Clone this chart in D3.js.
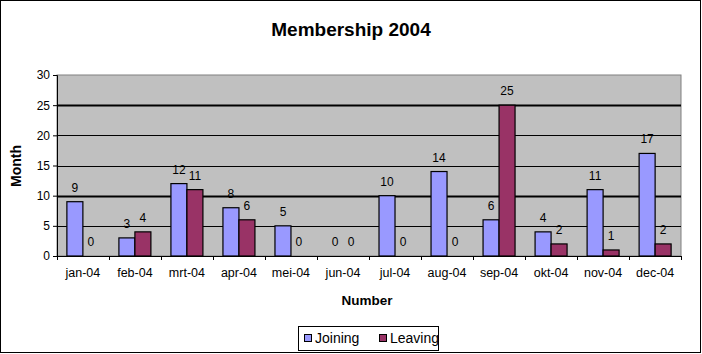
<!DOCTYPE html>
<html><head><meta charset="utf-8">
<script src="https://cdn.jsdelivr.net/npm/d3@7"></script>
<style>body{margin:0;background:#fff}svg{display:block;font-family:"Liberation Sans",Arial,sans-serif}</style>
</head><body><svg id="c" width="702" height="354"></svg>
<script>
const months = ["jan-04","feb-04","mrt-04","apr-04","mei-04","jun-04","jul-04","aug-04","sep-04","okt-04","nov-04","dec-04"];
const joining = [9,3,12,8,5,0,10,14,6,4,11,17];
const leaving = [0,4,11,6,0,0,0,0,25,2,1,2];
const yTicks = [0,5,10,15,20,25,30];
const seriesNames = ["Joining","Leaving"];
const colors = ["#9999FF","#993366"];

const svg = d3.select("#c");
svg.append("rect").attr("x",0.5).attr("y",0.5).attr("width",700).attr("height",352).attr("fill","#fff").attr("stroke","#000");

const L=57,R=681,T=75,B=256;
const x = d3.scaleBand().domain(months).range([L,R]).paddingInner(0.385).paddingOuter(0.19);
const xs = d3.scaleBand().domain(seriesNames).range([0,x.bandwidth()]);
const y = d3.scaleLinear().domain([0,30]).range([B,T]);

svg.append("rect").attr("x",L).attr("y",T).attr("width",R-L).attr("height",B-T).attr("fill","#C0C0C0").attr("stroke","#808080");

const thick = new Set([10,25]);
svg.append("g").selectAll("line").data(yTicks.filter(d=>d>0&&d<30)).join("line")
  .attr("x1",L).attr("x2",R).attr("y1",d=>Math.round(y(d))+0.5).attr("y2",d=>Math.round(y(d))+0.5)
  .attr("stroke","#000").attr("stroke-width",d=>thick.has(d)?2:1);

// y axis
const ya = svg.append("g").attr("transform",`translate(${L},0)`)
  .call(d3.axisLeft(y).tickValues(yTicks).tickSize(4).tickPadding(3));
ya.select(".domain").attr("stroke","#000");
ya.selectAll("text").attr("font-size",12).attr("fill","#000").attr("font-family","Liberation Sans, Arial, sans-serif");

// x axis
const xa = svg.append("g").attr("transform",`translate(0,${B})`);
xa.append("line").attr("x1",L).attr("x2",R).attr("y1",0.5).attr("y2",0.5).attr("stroke","#000");
xa.selectAll(".tk").data(d3.range(months.length+1)).join("line")
  .attr("x1",i=>Math.round(L+i*(R-L)/months.length)+0.5).attr("x2",i=>Math.round(L+i*(R-L)/months.length)+0.5)
  .attr("y1",0).attr("y2",4).attr("stroke","#000");
xa.selectAll("text").data(months).join("text")
  .attr("x",d=>x(d)+x.bandwidth()/2).attr("y",21).attr("text-anchor","middle")
  .attr("font-size",12.5).text(d=>d);

const data = [joining, leaving];
data.forEach((vals,si)=>{
  const g = svg.append("g");
  g.selectAll("rect").data(vals).join("rect")
    .attr("x",(d,i)=>x(months[i])+xs(seriesNames[si]))
    .attr("y",d=>y(d)).attr("width",xs.bandwidth()).attr("height",d=>B-y(d))
    .attr("fill",colors[si]).attr("stroke","#000").attr("stroke-width",1.2)
    .attr("stroke-opacity",d=>d>0?1:0);
  g.selectAll("text").data(vals).join("text")
    .attr("x",(d,i)=>x(months[i])+xs(seriesNames[si])+xs.bandwidth()/2)
    .attr("y",d=>y(d)-10).attr("text-anchor","middle").attr("font-size",12).text(d=>d);
});

svg.append("text").attr("x",351).attr("y",36).attr("text-anchor","middle").attr("font-size",19).attr("font-weight","bold").text("Membership 2004");
svg.append("text").attr("transform","translate(21,166) rotate(-90)").attr("text-anchor","middle").attr("font-size",14).attr("font-weight","bold").text("Month");
svg.append("text").attr("x",367).attr("y",305).attr("text-anchor","middle").attr("font-size",13.5).attr("font-weight","bold").text("Number");

// legend
const lg = svg.append("g");
lg.append("rect").attr("x",298.5).attr("y",326.5).attr("width",140).attr("height",24).attr("fill","#fff").attr("stroke","#000");
const lx=[304,379];
seriesNames.forEach((n,i)=>{
  lg.append("rect").attr("x",lx[i]+0.5).attr("y",334.5).attr("width",7).attr("height",7).attr("fill",colors[i]).attr("stroke","#000");
  lg.append("text").attr("x",lx[i]+11).attr("y",343).attr("font-size",14).text(n);
});
</script></body></html>
